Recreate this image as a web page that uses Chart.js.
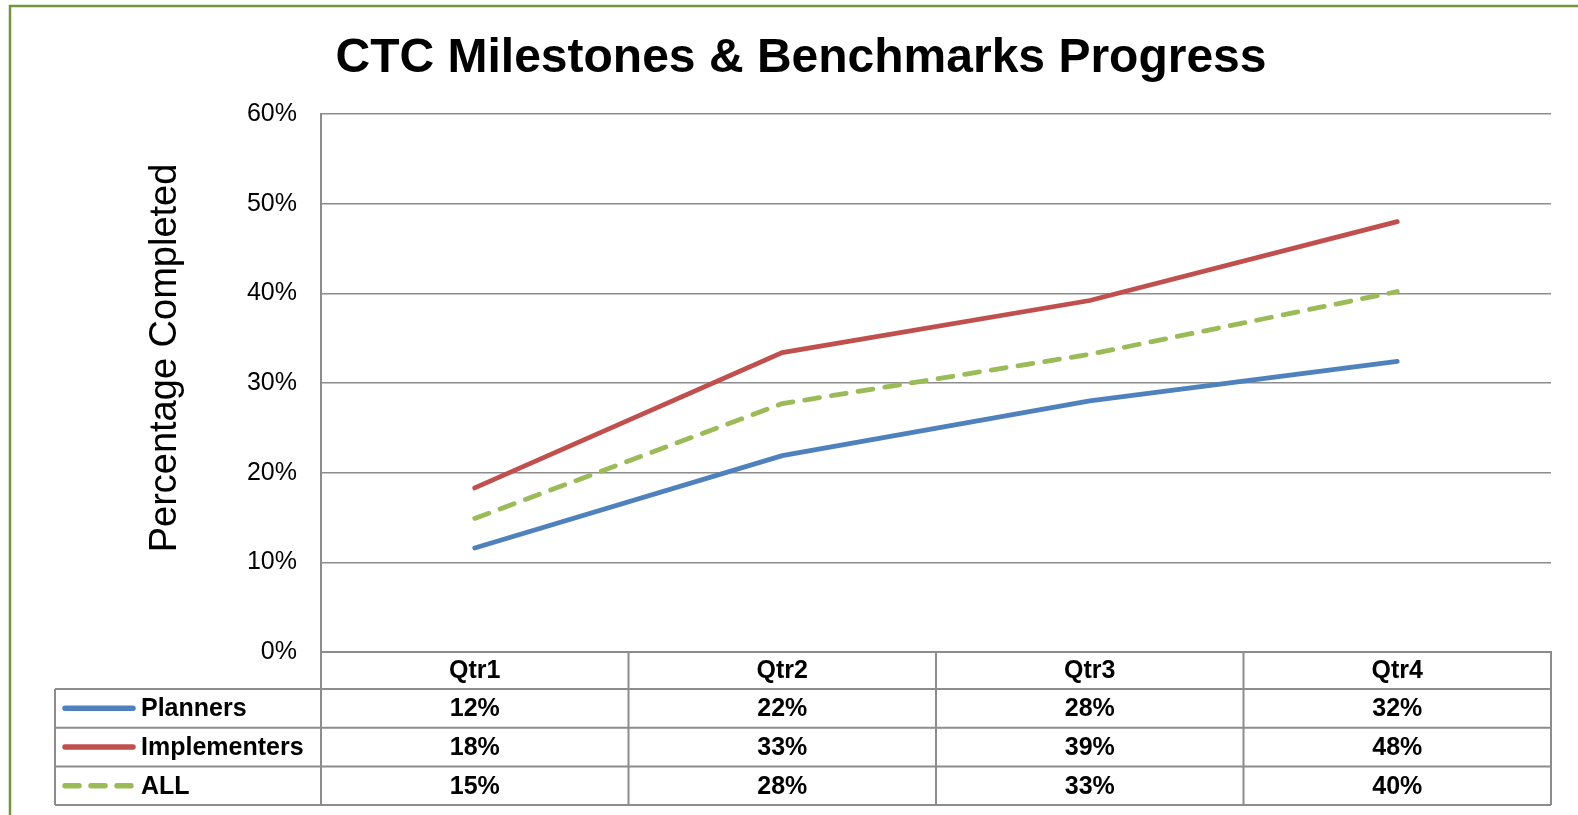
<!DOCTYPE html>
<html>
<head>
<meta charset="utf-8">
<script src="https://cdn.jsdelivr.net/npm/chart.js@4/dist/chart.umd.min.js"></script>
<style>
  html, body { margin: 0; padding: 0; background: #fff; }
  canvas { display: block; }
</style>
</head>
<body>
<canvas id="progressChart" width="1578" height="815"></canvas>
<script>
// categories and series (percent completed)
const quarters = ['Qtr1', 'Qtr2', 'Qtr3', 'Qtr4'];
const planners = [11.6, 21.9, 28.0, 32.4];
const implementers = [18.3, 33.4, 39.2, 48.0];
const allStaff = [14.9, 27.7, 33.2, 40.2];
const seriesNames = ['Planners', 'Implementers', 'ALL'];
const yTicks = [0, 10, 20, 30, 40, 50, 60];
const chartTitle = 'CTC Milestones & Benchmarks Progress';
const yTitle = 'Percentage Completed';

const FONT = 'Arial, "Liberation Sans", sans-serif';
const GRID = '#8c8c8c';

// frame, titles and the data table under the plot
const tablePlugin = {
  id: 'dataTable',
  beforeDraw(chart) {
    const c = chart.ctx;
    c.save();
    c.strokeStyle = '#77933c';
    c.lineWidth = 2.5;
    c.beginPath();
    c.moveTo(10, 815);
    c.lineTo(10, 6);
    c.lineTo(1578, 6);
    c.stroke();
    c.restore();
  },
  afterDraw(chart) {
    const c = chart.ctx;
    const x = chart.scales.x;
    const area = chart.chartArea;
    const band = x.getPixelForValue(1) - x.getPixelForValue(0);
    const top = area.bottom;
    const headH = 37;
    const rowH = 38.7;
    const legLeft = 55;
    const bottom = top + headH + rowH * 3;

    c.save();
    c.fillStyle = '#000';
    c.font = 'bold 48px ' + FONT;
    c.textAlign = 'center';
    c.textBaseline = 'alphabetic';
    c.fillText(chartTitle, 801, 72);
    c.font = '38px ' + FONT;
    c.textBaseline = 'middle';
    c.translate(166, 358);
    c.rotate(-Math.PI / 2);
    c.fillText(yTitle, 0, 0);
    c.restore();

    c.save();
    c.strokeStyle = GRID;
    c.lineWidth = 2;
    c.beginPath();
    for (let r = 0; r <= 3; r++) {
      const yy = top + headH + rowH * r;
      c.moveTo(r === 0 ? legLeft : legLeft, yy);
      c.lineTo(area.right, yy);
    }
    c.moveTo(legLeft, top + headH);
    c.lineTo(legLeft, bottom);
    for (let i = 0; i <= quarters.length; i++) {
      const xx = x.getPixelForValue(0) - band / 2 + band * i;
      c.moveTo(xx, top);
      c.lineTo(xx, bottom);
    }
    c.stroke();

    c.fillStyle = '#000';
    c.font = 'bold 25px ' + FONT;
    c.textAlign = 'center';
    c.textBaseline = 'middle';
    quarters.forEach((q, i) => {
      c.fillText(q, x.getPixelForValue(i), top + headH / 2 + 1);
    });
    chart.data.datasets.forEach((ds, r) => {
      const cy = top + headH + rowH * r + rowH / 2 + 1;
      ds.data.forEach((v, i) => {
        c.fillText(Math.round(v) + '%', x.getPixelForValue(i), cy);
      });
      // legend key
      c.save();
      c.strokeStyle = ds.borderColor;
      c.lineWidth = 5.5;
      c.lineCap = 'round';
      c.setLineDash(ds.borderDash && ds.borderDash.length ? [14, 12] : []);
      c.beginPath();
      c.moveTo(65, cy - 1);
      c.lineTo(133, cy - 1);
      c.stroke();
      c.restore();
      c.textAlign = 'left';
      c.fillText(ds.label, 141, cy);
      c.textAlign = 'center';
    });
    c.restore();
  }
};

new Chart(document.getElementById('progressChart'), {
  type: 'line',
  data: {
    labels: quarters,
    datasets: [
      { label: seriesNames[0], data: planners, borderColor: '#4f81bd' },
      { label: seriesNames[1], data: implementers, borderColor: '#c0504d' },
      { label: seriesNames[2], data: allStaff, borderColor: '#9bbb59', borderDash: [15, 12] }
    ].map(d => Object.assign({ borderWidth: 4.8, pointRadius: 0, tension: 0, borderCapStyle: 'round', fill: false }, d))
  },
  options: {
    responsive: false,
    animation: false,
    layout: { padding: { left: 24, right: 27, top: 114, bottom: 0 } },
    plugins: {
      legend: { display: false },
      tooltip: { enabled: false },
      title: { display: false }
    },
    scales: {
      x: {
        offset: true,
        grid: { display: false },
        border: { display: true, color: GRID, width: 2 },
        ticks: { display: false },
        afterFit(scale) { scale.height = 815 - 652; }
      },
      y: {
        min: 0,
        max: 60,
        afterBuildTicks(scale) { scale.ticks = yTicks.map(v => ({ value: v })); },
        grid: { color: GRID, lineWidth: 1.5, drawTicks: false },
        border: { display: true, color: GRID, width: 2 },
        ticks: {
          padding: 24,
          color: '#000',
          font: { family: FONT, size: 25 },
          callback: v => v + '%'
        },
        afterFit(scale) { scale.width = 321 - 24; }
      }
    }
  },
  plugins: [tablePlugin]
});
</script>
</body>
</html>
